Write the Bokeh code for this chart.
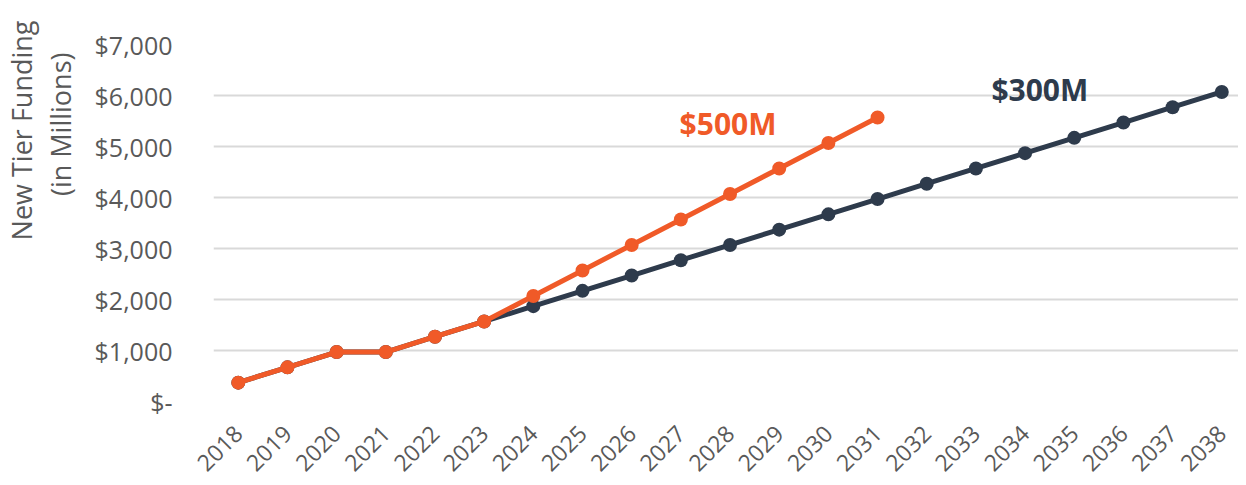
from bokeh.plotting import figure
from bokeh.models import Range1d, FixedTicker, Label, Title
from bokeh.embed import file_html
from bokeh.resources import INLINE
import math

years = list(range(2018, 2039))
tier_300m = [370, 670, 970, 970, 1270, 1570, 1870, 2170, 2470, 2770, 3070,
             3370, 3670, 3970, 4270, 4570, 4870, 5170, 5470, 5770, 6070]
years_500m = list(range(2018, 2032))
tier_500m = [370, 670, 970, 970, 1270, 1570, 2070, 2570, 3070, 3570, 4070,
             4570, 5070, 5570]
y_ticks = [0, 1000, 2000, 3000, 4000, 5000, 6000, 7000]
y_tick_labels = ["$-", "$1,000", "$2,000", "$3,000", "$4,000", "$5,000", "$6,000", "$7,000"]

NAVY = "#2e3b4c"
ORANGE = "#f05a28"
GRAY = "#595959"
FONT = "Open Sans"

p = figure(width=1238, height=485, output_backend="svg", toolbar_location=None,
           x_range=Range1d(2017.496, 2038.34), y_range=Range1d(0, 7000),
           min_border_left=212, min_border_right=0, min_border_top=44,
           min_border_bottom=84)
p.outline_line_color = None
p.xgrid.grid_line_color = None
p.ygrid.grid_line_color = "#d9d9d9"
p.ygrid.grid_line_width = 2
p.ygrid.ticker = FixedTicker(ticks=y_ticks)

p.yaxis.ticker = FixedTicker(ticks=y_ticks)
p.yaxis.major_label_overrides = {t: l for t, l in zip(y_ticks, y_tick_labels)}
p.xaxis.ticker = FixedTicker(ticks=years)
p.xaxis.major_label_overrides = {y: str(y) for y in years}
p.xaxis.major_label_orientation = math.pi / 4
for ax in (p.xaxis, p.yaxis):
    ax.axis_line_color = None
    ax.major_tick_line_color = None
    ax.minor_tick_line_color = None
    ax.major_label_text_font = FONT
    ax.major_label_text_color = GRAY
p.yaxis.major_label_text_font_size = "25px"
p.xaxis.major_label_text_font_size = "23px"
p.yaxis.major_label_standoff = 35
p.xaxis.major_label_standoff = 22
p.yaxis.axis_label = " "
p.yaxis.axis_label_text_font_size = "9px"
p.yaxis.axis_label_standoff = 0

p.line(years, tier_300m, line_color=NAVY, line_width=5)
p.scatter(years, tier_300m, size=14, fill_color=NAVY, line_color=None)
p.line(years_500m, tier_500m, line_color=ORANGE, line_width=5)
p.scatter(years_500m, tier_500m, size=14, fill_color=ORANGE, line_color=None)

p.add_layout(Label(x=2027.96, y=5450, text="$500M", text_color=ORANGE,
                   text_font=FONT, text_font_style="bold", text_font_size="30px",
                   text_align="center", text_baseline="middle"))
p.add_layout(Label(x=2034.3, y=6118, text="$300M", text_color=NAVY,
                   text_font=FONT, text_font_style="bold", text_font_size="30px",
                   text_align="center", text_baseline="middle"))

p.add_layout(Title(text="(in Millions)", align="right", offset=8, standoff=0,
                   text_color=GRAY, text_font=FONT, text_font_size="27px",
                   text_font_style="normal"), "left")
p.add_layout(Title(text="New Tier Funding", align="right", offset=-24, standoff=0,
                   text_color=GRAY, text_font=FONT, text_font_size="27px",
                   text_font_style="normal"), "left")

open("out.html", "w").write(file_html(p, INLINE))
